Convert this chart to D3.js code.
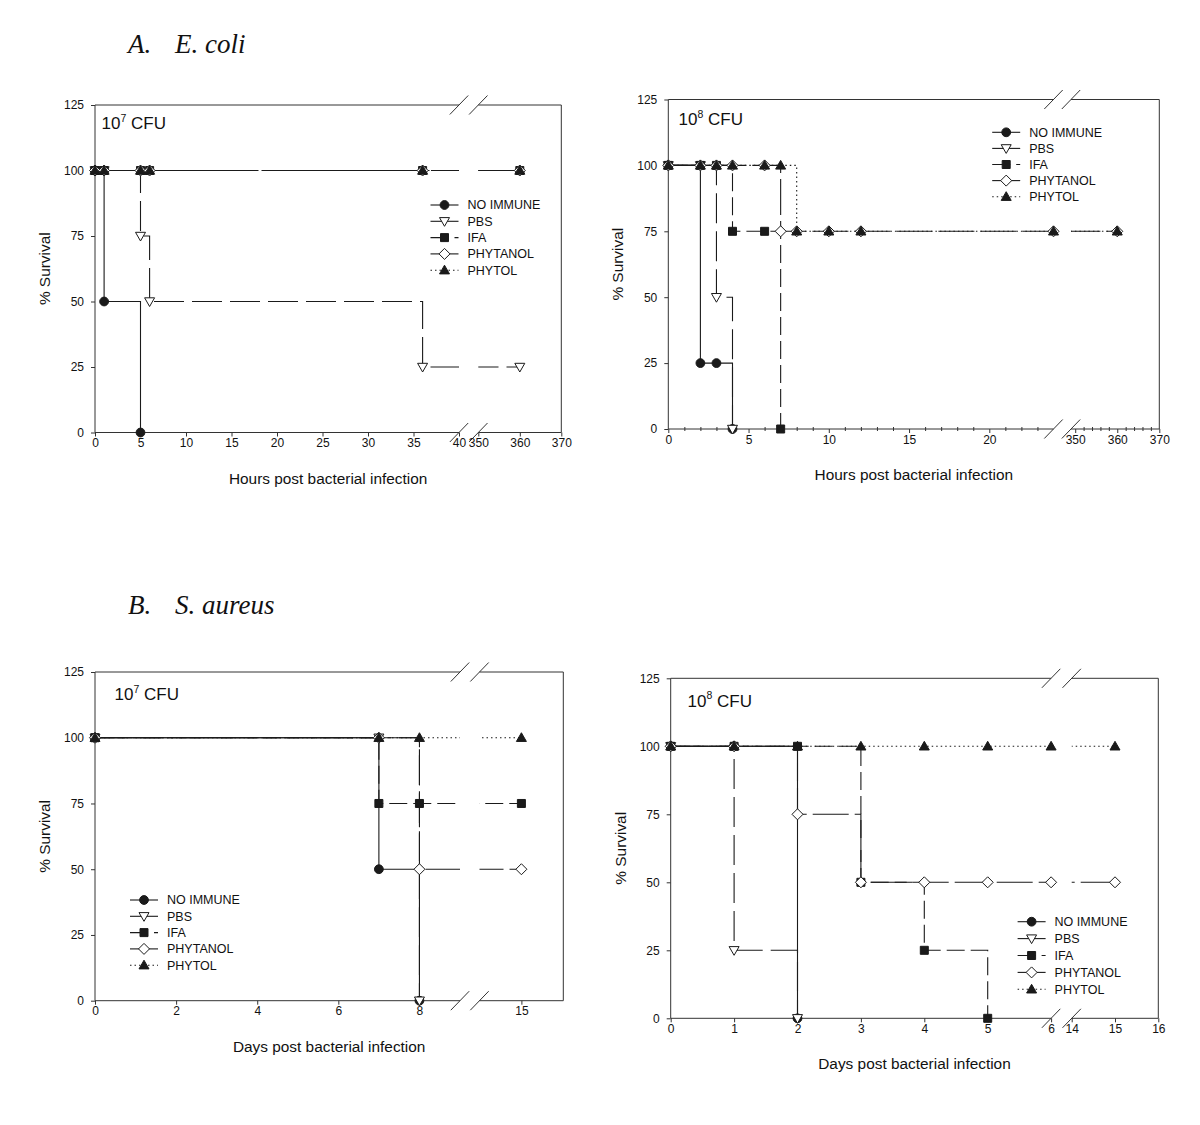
<!DOCTYPE html>
<html><head><meta charset="utf-8">
<script src="https://cdn.jsdelivr.net/npm/d3@7"></script>
<style>body{margin:0;background:#fff}</style>
</head><body>
<svg id="chart" width="1200" height="1125"></svg>
<script>
// ---------- DATA ----------
const seriesNames = ["NO IMMUNE", "PBS", "IFA", "PHYTANOL", "PHYTOL"];
const yTicks = [0, 25, 50, 75, 100, 125];

// A. E. coli, 10^7 CFU (hours)
const ecoli7_noImmune = [[0,100],[1,50],[5,0]];
const ecoli7_pbs      = [[0,100],[1,100],[5,75],[6,50],[36,25],[360,25]];
const ecoli7_ifa      = [[0,100],[1,100],[5,100],[6,100],[36,100],[360,100]];
const ecoli7_phytanol = [[0,100],[1,100],[5,100],[6,100],[36,100],[360,100]];
const ecoli7_phytol   = [[0,100],[1,100],[5,100],[6,100],[36,100],[360,100]];
const ecoli7_xTicks   = [0,5,10,15,20,25,30,35,40,350,360,370];
const ecoli7_xMinor   = [];

// A. E. coli, 10^8 CFU (hours)
const ecoli8_noImmune = [[0,100],[2,25],[3,25],[4,0]];
const ecoli8_pbs      = [[0,100],[2,100],[3,50],[4,0]];
const ecoli8_ifa      = [[0,100],[2,100],[3,100],[4,75],[6,75],[7,0]];
const ecoli8_phytanol = [[0,100],[2,100],[3,100],[4,100],[6,100],[7,75],[8,75],[10,75],[12,75],[24,75],[360,75]];
const ecoli8_phytol   = [[0,100],[2,100],[3,100],[4,100],[6,100],[7,100],[8,75],[10,75],[12,75],[24,75],[360,75]];
const ecoli8_xTicks   = [0,5,10,15,20,350,360,370];
const ecoli8_xMinor   = [1,2,3,4,6,7,8,9,11,12,13,14,16,17,18,19,21,22,23,352,354,356,358,362,364,366,368];

// B. S. aureus, 10^7 CFU (days)
const saureus7_noImmune = [[0,100],[7,50],[8,0]];
const saureus7_pbs      = [[0,100],[7,100],[8,0]];
const saureus7_ifa      = [[0,100],[7,75],[8,75],[15,75]];
const saureus7_phytanol = [[0,100],[7,100],[8,50],[15,50]];
const saureus7_phytol   = [[0,100],[7,100],[8,100],[15,100]];
const saureus7_xTicks   = [0,2,4,6,8,15];
const saureus7_xMinor   = [];

// B. S. aureus, 10^8 CFU (days)
const saureus8_noImmune = [[0,100],[1,100],[2,0]];
const saureus8_pbs      = [[0,100],[1,25],[2,0]];
const saureus8_ifa      = [[0,100],[1,100],[2,100],[3,50],[4,25],[5,0]];
const saureus8_phytanol = [[0,100],[1,100],[2,75],[3,50],[4,50],[5,50],[6,50],[15,50]];
const saureus8_phytol   = [[0,100],[1,100],[2,100],[3,100],[4,100],[5,100],[6,100],[15,100]];
const saureus8_xTicks   = [0,1,2,3,4,5,6,14,15,16];
const saureus8_xMinor   = [];

// ---------- STYLE / LAYOUT ----------
const dashes = [null, "30,8", "18,6", "36,6", "1.5,3"];
const markerKinds = ["circle", "triDown", "square", "diamond", "triUp"];
const INK = "#1a1a1a";
const FONT = "'Liberation Sans', Arial, Helvetica, sans-serif";

const panels = [
  { series:[ecoli7_noImmune,ecoli7_pbs,ecoli7_ifa,ecoli7_phytanol,ecoli7_phytol],
    xTicks:ecoli7_xTicks, xMinor:ecoli7_xMinor,
    xDomain:[0,40,350,370], xRange:[95,459,478.3,561.3], yRange:[432.5,105],
    xTitle:"Hours post bacterial infection", cfu:"7", cfuPos:[101.5,129],
    legend:{x:430.5, y:205, dy:16.3} },
  { series:[ecoli8_noImmune,ecoli8_pbs,ecoli8_ifa,ecoli8_phytanol,ecoli8_phytol],
    xTicks:ecoli8_xTicks, xMinor:ecoli8_xMinor,
    xDomain:[0,24,349,370], xRange:[668.3,1053.5,1071,1159.3], yRange:[429,99.5],
    xTitle:"Hours post bacterial infection", cfu:"8", cfuPos:[678.5,125],
    legend:{x:992.2, y:132.3, dy:16.1} },
  { series:[saureus7_noImmune,saureus7_pbs,saureus7_ifa,saureus7_phytanol,saureus7_phytol],
    xTicks:saureus7_xTicks, xMinor:saureus7_xMinor,
    xDomain:[0,9,14,16], xRange:[95,460,479.5,563.3], yRange:[1000.7,672],
    xTitle:"Days post bacterial infection", cfu:"7", cfuPos:[114.5,700],
    legend:{x:130, y:900, dy:16.3} },
  { series:[saureus8_noImmune,saureus8_pbs,saureus8_ifa,saureus8_phytanol,saureus8_phytol],
    xTicks:saureus8_xTicks, xMinor:saureus8_xMinor,
    xDomain:[0,6,14,16], xRange:[670.7,1051.1,1071.7,1158.3], yRange:[1018.3,678.3],
    xTitle:"Days post bacterial infection", cfu:"8", cfuPos:[687.5,706.5],
    legend:{x:1017.6, y:921.7, dy:16.9} }
];

const svg = d3.select("#chart");

function markerPath(kind) {
  switch (kind) {
    case "triDown": return "M-5,-3.7L5,-3.7L0,5Z";
    case "triUp":   return "M-5,3.7L5,3.7L0,-5Z";
    case "square":  return "M-4,-4L4,-4L4,4L-4,4Z";
    case "diamond": return "M0,-5.5L5.5,0L0,5.5L-5.5,0Z";
    default: return null;
  }
}
function drawMarker(g, kind, cx, cy) {
  if (kind === "circle") {
    g.append("circle").attr("cx", cx).attr("cy", cy).attr("r", 4.4)
      .attr("fill", INK).attr("stroke", INK);
  } else {
    const open = (kind === "triDown" || kind === "diamond");
    g.append("path").attr("d", markerPath(kind))
      .attr("transform", `translate(${cx},${cy})`)
      .attr("fill", open ? "#fff" : INK).attr("stroke", INK).attr("stroke-width", 1);
  }
}

panels.forEach((p, pi) => {
  const x = d3.scaleLinear().domain(p.xDomain).range(p.xRange);
  const y = d3.scaleLinear().domain([0,125]).range(p.yRange);
  const [r0, r1, r2, r3] = p.xRange;
  const [yb, yt] = p.yRange;
  const g = svg.append("g");

  // clip to exclude break gap
  const clipId = "clip" + pi;
  const cp = svg.append("defs").append("clipPath").attr("id", clipId);
  cp.append("rect").attr("x", r0 - 10).attr("y", yt - 20).attr("width", r1 - r0 + 10).attr("height", yb - yt + 40);
  cp.append("rect").attr("x", r2).attr("y", yt - 20).attr("width", r3 - r2 + 10).attr("height", yb - yt + 40);

  // frame
  const fr = g.append("g").attr("stroke", "#333").attr("stroke-width", 1).attr("fill", "none");
  fr.append("line").attr("x1", r0).attr("x2", r0).attr("y1", yt).attr("y2", yb);
  fr.append("line").attr("x1", r3).attr("x2", r3).attr("y1", yt).attr("y2", yb);
  [yt, yb].forEach(yy => {
    fr.append("line").attr("x1", r0).attr("x2", r1).attr("y1", yy).attr("y2", yy);
    fr.append("line").attr("x1", r2).attr("x2", r3).attr("y1", yy).attr("y2", yy);
    [r1, r2].forEach(xx => {
      fr.append("line").attr("x1", xx - 9.2).attr("y1", yy + 9.5)
        .attr("x2", xx + 9.2).attr("y2", yy - 9.5);
    });
  });

  // axes
  const xAxis = g.append("g").attr("transform", `translate(0,${yb})`)
    .call(d3.axisBottom(x).tickValues(p.xTicks).tickFormat(d => d).tickSize(4).tickPadding(2));
  if (p.xMinor.length) {
    g.append("g").attr("transform", `translate(0,${yb - 2})`)
      .call(d3.axisBottom(x).tickValues(p.xMinor).tickFormat("").tickSize(4))
      .call(a => a.select(".domain").remove());
  }
  const yAxis = g.append("g").attr("transform", `translate(${r0},0)`)
    .call(d3.axisLeft(y).tickValues(yTicks).tickSize(4).tickPadding(7));
  [xAxis, yAxis].forEach(a => {
    a.select(".domain").remove();
    a.selectAll("text").attr("font-family", FONT).attr("font-size", 12).attr("fill", "#111");
  });
  g.selectAll(".tick line").attr("stroke", "#333");

  // axis titles
  g.append("text").attr("x", (r0 + r3) / 2).attr("y", yb + 51)
    .attr("text-anchor", "middle").attr("font-family", FONT).attr("font-size", 15.4)
    .attr("fill", "#111").text(p.xTitle);
  g.append("text").attr("transform", `translate(${r0 - 45},${(yb + yt) / 2}) rotate(-90)`)
    .attr("text-anchor", "middle").attr("font-family", FONT).attr("font-size", 15.4)
    .attr("fill", "#111").text("% Survival");

  // CFU label
  const cfu = g.append("text").attr("x", p.cfuPos[0]).attr("y", p.cfuPos[1])
    .attr("font-family", FONT).attr("font-size", 17).attr("fill", "#111");
  cfu.append("tspan").text("10");
  cfu.append("tspan").attr("font-size", 10.5).attr("dy", -7.5).text(p.cfu);
  cfu.append("tspan").attr("dy", 7.5).text(" CFU");

  // lines
  const line = d3.line().x(d => x(d[0])).y(d => y(d[1])).curve(d3.curveStepAfter);
  const lg = g.append("g").attr("clip-path", `url(#${clipId})`);
  p.series.forEach((s, si) => {
    lg.append("path").datum(s).attr("d", line)
      .attr("fill", "none").attr("stroke", INK).attr("stroke-width", 1.1)
      .attr("stroke-dasharray", dashes[si]);
  });
  // markers
  const mg = g.append("g");
  p.series.forEach((s, si) => {
    s.forEach(d => drawMarker(mg, markerKinds[si], x(d[0]), y(d[1])));
  });

  // legend
  const L = p.legend;
  seriesNames.forEach((name, si) => {
    const yy = L.y + si * L.dy;
    g.append("line").attr("x1", L.x).attr("x2", L.x + 28).attr("y1", yy).attr("y2", yy)
      .attr("stroke", INK).attr("stroke-width", 1.1).attr("stroke-dasharray", dashes[si]);
    drawMarker(g, markerKinds[si], L.x + 14, yy);
    g.append("text").attr("x", L.x + 37).attr("y", yy + 4.3)
      .attr("font-family", FONT).attr("font-size", 12.5).attr("fill", "#111").text(name);
  });
});

// group titles
const SERIF = "'Liberation Serif', 'Times New Roman', serif";
[["A.", "E. coli", 53], ["B.", "S. aureus", 614]].forEach(([a, b, yy]) => {
  svg.append("text").attr("x", 128).attr("y", yy).attr("font-family", SERIF)
    .attr("font-style", "italic").attr("font-size", 27).attr("fill", "#111").text(a);
  svg.append("text").attr("x", 175).attr("y", yy).attr("font-family", SERIF)
    .attr("font-style", "italic").attr("font-size", 27).attr("fill", "#111").text(b);
});
</script>
</body></html>
